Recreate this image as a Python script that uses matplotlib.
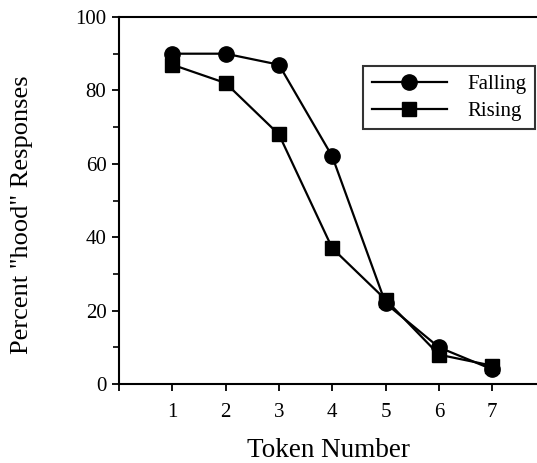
import matplotlib
matplotlib.use("Agg")
import matplotlib.pyplot as plt
from matplotlib.ticker import MultipleLocator

plt.rcParams['font.family'] = ['Liberation Serif', 'DejaVu Serif']

tokens = [1, 2, 3, 4, 5, 6, 7]
falling = [90, 90, 87, 62, 22, 10, 4]
rising = [87, 82, 68, 37, 23, 8, 5]
x_ticks = [0, 1, 2, 3, 4, 5, 6, 7]
x_tick_labels = ["", "1", "2", "3", "4", "5", "6", "7"]
y_ticks = [0, 20, 40, 60, 80, 100]

fig = plt.figure(figsize=(5.37, 4.63), dpi=100)
ax = fig.add_axes([0.2216, 0.1706, 0.7784, 0.7927])

ax.plot(tokens, falling, color='black', lw=1.6, marker='o', ms=11,
        label='Falling', clip_on=False, zorder=3)
ax.plot(tokens, rising, color='black', lw=1.6, marker='s', ms=10.5,
        label='Rising', clip_on=False, zorder=3)

ax.set_xlim(0, 7.84)
ax.set_ylim(0, 100)
ax.set_xticks(x_ticks)
ax.set_xticklabels(x_tick_labels)
ax.set_yticks(y_ticks)
ax.yaxis.set_minor_locator(MultipleLocator(10))

ax.spines['right'].set_visible(False)
for s in ('left', 'top', 'bottom'):
    ax.spines[s].set_linewidth(1.5)

ax.tick_params(axis='both', which='major', direction='out', length=5,
               width=1.3, labelsize=15, colors='black')
ax.tick_params(axis='x', which='major', pad=9)
ax.tick_params(axis='y', which='major', pad=4)
ax.tick_params(axis='y', which='minor', direction='out', length=4, width=1.2)

ax.set_xlabel('Token Number', fontsize=19.5, labelpad=11.5)
ax.set_ylabel('Percent "hood" Responses', fontsize=19)
ax.yaxis.set_label_coords(-0.206, 0.46)

leg = ax.legend(loc='upper right', bbox_to_anchor=(0.995, 0.866),
                fontsize=15, handlelength=3.6, frameon=True, fancybox=False,
                borderpad=0.4, labelspacing=0.35, handletextpad=1.0,
                borderaxespad=0)
leg.get_frame().set_edgecolor('black')
leg.get_frame().set_linewidth(1.5)

fig.savefig('out.png', dpi=100)
